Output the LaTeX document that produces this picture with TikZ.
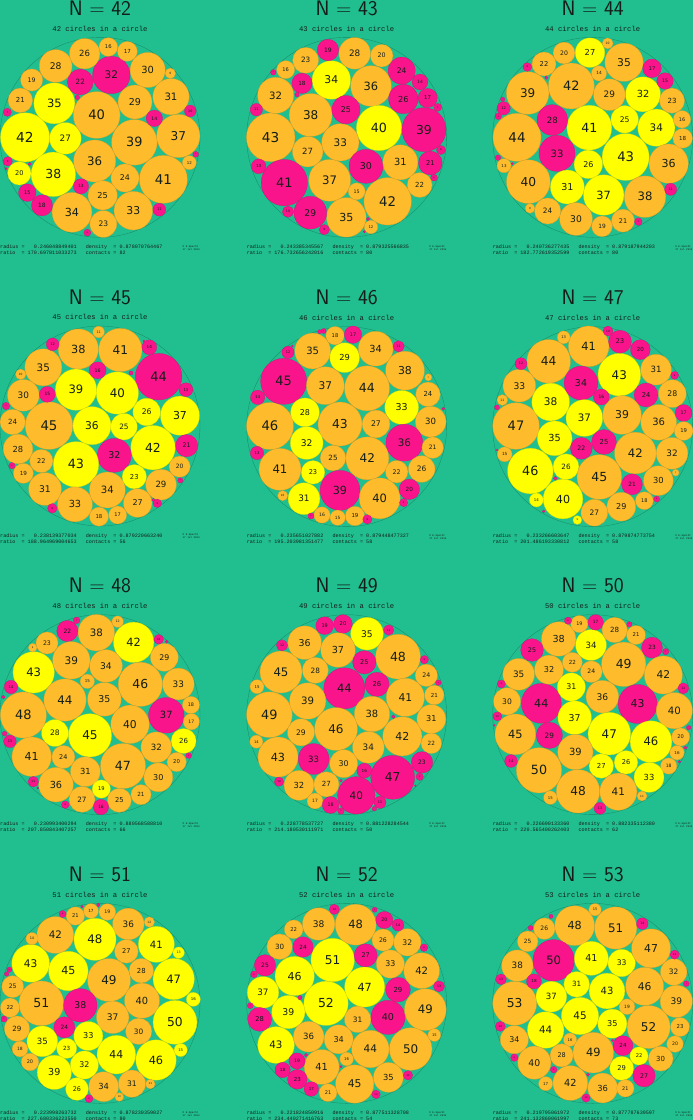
\documentclass[tikz,border=0pt]{standalone}
\usepackage{fontspec}
\newfontfamily\numfont{DejaVu Sans}
\newfontfamily\monofont{Liberation Mono}
\definecolor{bg}{RGB}{33,191,143}
\definecolor{cO}{RGB}{254,187,44}
\definecolor{cY}{RGB}{255,255,0}
\definecolor{cM}{RGB}{250,20,140}
\definecolor{ring}{RGB}{22,140,104}
\definecolor{ink}{RGB}{20,30,25}
\tikzset{
  ttl/.style={font=\sffamily\fontsize{21}{21}\selectfont,text=ink,inner sep=0pt},
  subt/.style={font=\monofont\fontsize{7.2}{7.2}\selectfont,text=ink,inner sep=0pt},
  info/.style={font=\monofont\fontsize{5.1}{5.1}\selectfont,text=ink,anchor=base west,inner sep=0pt},
  copy/.style={font=\monofont\fontsize{2.6}{3}\selectfont,text=ink,anchor=north east,align=left,inner sep=0pt},
  outer/.style={draw=ring,line width=0.35pt}
}
\newcommand\C[4]{%
  \pgfmathsetmacro\rr{#3*\ff/3}%
  \pgfmathsetmacro\fs{0.56*\rr}%
  \filldraw[fill=c#4,draw=c#4!82!black,line width=0.2pt] (#1,#2) circle[radius=\rr pt];%
  \ifdim\rr pt>2.5pt \node[font=\numfont\fontsize{\fs pt}{\fs pt}\selectfont,text=ink,inner sep=0pt] at (#1,#2) {#3};\fi
}
\newcommand\Head[7]{%
  \draw[outer] (#1,#2) circle[radius=100pt];
  \node[ttl] (t#3) at (#1,{#2-387}) {N = #3};
  \node[subt] (s#3) at (#1,{#2-326}) {#3 circles in a circle};
  \node[info] (a#3) at ({#1-300},{#2+333}) {radius =\ \ \ #4\ \ \ density\ \ = #5};
  \node[info] (b#3) at ({#1-300},{#2+351}) {ratio\ \ = #6\ \ \ contacts = #7};
  \node[copy] (c#3) at ({#1+300},{#2+323}) {© E.Specht\\17 Jul 2014};
}
\begin{document}
\begin{tikzpicture}[x=1pt,y=-1pt]
\useasboundingbox (0,0) rectangle (693,1120);
\fill[bg] (0,0) rectangle (693,1120);
\clip (0,0) rectangle (693,1120);
% ---------- N=42
\begin{scope}[shift={(0,0)},x=0.333333pt,y=-0.333333pt]
\pgfmathsetmacro\ff{300/170.697811}
\Head{300}{412}{42}{0.246048849401}{0.878070764467}{170.697811033273}{82}
\C{75}{412}{42}{Y}\C{163}{310}{35}{Y}\C{196}{415}{27}{Y}\C{160}{523}{38}{Y}\C{58}{520}{20}{Y}
\C{290}{345}{40}{O}\C{403}{427}{39}{O}\C{535}{408}{37}{O}\C{490}{538}{41}{O}\C{284}{483}{36}{O}
\C{334}{225}{32}{M}\C{241}{246}{22}{M}\C{167}{198}{28}{O}\C{254}{161}{26}{O}\C{325}{141}{16}{O}
\C{382}{154}{17}{O}\C{443}{210}{30}{O}\C{511}{220}{9}{O}\C{513}{290}{31}{O}\C{405}{306}{29}{O}
\C{95}{240}{19}{O}\C{61}{301}{21}{O}\C{463}{355}{14}{M}\C{571}{333}{10}{M}\C{375}{534}{24}{O}
\C{308}{586}{25}{O}\C{400}{632}{33}{O}\C{216}{637}{34}{O}\C{310}{672}{23}{O}\C{243}{559}{13}{M}
\C{82}{578}{15}{M}\C{126}{616}{18}{M}\C{478}{629}{11}{M}\C{568}{488}{12}{O}\C{587}{463}{5}{M}
\C{23}{484}{8}{M}\C{22}{337}{7}{M}\C{262}{698}{6}{M}\C{232}{292}{4}{M}\C{89}{492}{3}{M}\C{18}{506}{2}{M}
\end{scope}
% ---------- N=43
\begin{scope}[shift={(231,0)},x=0.333333pt,y=-0.333333pt]
\pgfmathsetmacro\ff{300/176.732656}
\Head{347}{412}{43}{0.243385345567}{0.879325566835}{176.732656242016}{80}
\C{119}{412}{43}{O}\C{160}{548}{41}{M}\C{239}{345}{38}{O}\C{134}{286}{32}{O}\C{301}{240}{34}{Y}
\C{420}{258}{36}{O}\C{444}{384}{40}{Y}\C{579}{389}{39}{M}\C{296}{541}{37}{O}\C{470}{604}{42}{O}
\C{346}{652}{35}{O}\C{328}{427}{33}{O}\C{230}{455}{27}{O}\C{345}{329}{25}{M}\C{405}{499}{30}{M}
\C{508}{487}{31}{O}\C{238}{638}{29}{M}\C{371}{160}{28}{O}\C{517}{297}{26}{M}\C{512}{212}{24}{M}
\C{224}{181}{23}{O}\C{566}{555}{22}{O}\C{598}{489}{21}{M}\C{452}{167}{20}{O}\C{291}{150}{19}{M}
\C{213}{250}{18}{M}\C{590}{294}{17}{M}\C{164}{209}{16}{O}\C{377}{574}{15}{O}\C{567}{246}{14}{M}
\C{83}{499}{13}{M}\C{420}{681}{12}{O}\C{76}{329}{11}{M}\C{171}{635}{10}{M}\C{280}{689}{9}{M}
\C{630}{450}{8}{M}\C{620}{322}{7}{M}\C{609}{533}{6}{M}\C{127}{217}{5}{M}\C{198}{284}{4}{M}
\C{411}{657}{3}{M}\C{400}{695}{2}{M}
\end{scope}
% ---------- N=44
\begin{scope}[shift={(462,0)},x=0.333333pt,y=-0.333333pt]
\pgfmathsetmacro\ff{300/182.772619}
\Head{392}{412}{44}{0.240736277435}{0.879187944203}{182.772619352599}{80}
\C{165}{412}{44}{O}\C{197}{279}{39}{O}\C{328}{258}{42}{O}\C{384}{158}{27}{Y}\C{486}{187}{35}{O}
\C{382}{383}{41}{Y}\C{491}{471}{43}{Y}\C{543}{283}{32}{Y}\C{583}{383}{34}{Y}\C{488}{358}{25}{Y}
\C{442}{284}{29}{O}\C{271}{360}{28}{M}\C{285}{460}{33}{M}\C{379}{493}{26}{Y}\C{316}{561}{31}{Y}
\C{425}{585}{37}{Y}\C{549}{590}{38}{O}\C{620}{491}{36}{O}\C{199}{545}{40}{O}\C{342}{657}{30}{O}
\C{257}{633}{24}{O}\C{483}{662}{21}{O}\C{420}{679}{19}{O}\C{630}{302}{23}{O}\C{246}{192}{22}{O}
\C{306}{159}{20}{O}\C{570}{205}{17}{M}\C{609}{243}{15}{M}\C{660}{358}{16}{O}\C{662}{415}{18}{O}
\C{411}{220}{14}{O}\C{125}{325}{12}{M}\C{126}{497}{13}{O}\C{626}{568}{11}{M}\C{437}{130}{10}{O}
\C{204}{625}{9}{O}\C{529}{665}{7}{M}\C{196}{201}{8}{M}\C{109}{349}{6}{M}\C{108}{473}{5}{M}
\C{122}{298}{4}{M}\C{253}{233}{3}{M}\C{151}{491}{2}{M}
\end{scope}
% ---------- N=45
\begin{scope}[shift={(0,280)},x=0.333333pt,y=-0.333333pt]
\pgfmathsetmacro\ff{300/188.964969}
\Head{300}{438}{45}{0.238139377034}{0.879220663240}{188.964969004653}{56}
\C{147}{437}{45}{O}\C{235}{207}{38}{O}\C{361}{210}{41}{O}\C{476}{290}{44}{M}\C{130}{262}{35}{O}
\C{228}{329}{39}{Y}\C{352}{339}{40}{Y}\C{70}{346}{30}{O}\C{276}{437}{36}{Y}\C{372}{440}{25}{Y}
\C{440}{396}{26}{Y}\C{540}{407}{37}{Y}\C{459}{503}{42}{Y}\C{343}{526}{32}{M}\C{228}{553}{43}{Y}
\C{38}{426}{24}{O}\C{54}{507}{28}{O}\C{124}{543}{22}{O}\C{70}{580}{19}{O}\C{135}{627}{31}{O}
\C{225}{673}{33}{O}\C{322}{630}{34}{O}\C{403}{590}{23}{Y}\C{483}{614}{29}{O}\C{413}{669}{27}{O}
\C{560}{497}{21}{M}\C{539}{560}{20}{O}\C{297}{710}{18}{O}\C{353}{705}{17}{O}\C{293}{271}{16}{M}
\C{142}{343}{15}{M}\C{448}{202}{14}{M}\C{558}{329}{13}{M}\C{158}{193}{12}{M}\C{296}{156}{11}{O}
\C{62}{283}{10}{O}\C{157}{685}{9}{M}\C{472}{670}{8}{M}\C{18}{378}{7}{M}\C{36}{557}{6}{M}
\C{541}{601}{5}{M}\C{393}{279}{4}{M}\C{460}{660}{3}{M}\C{432}{183}{2}{M}
\end{scope}
% ---------- N=46
\begin{scope}[shift={(231,280)},x=0.333333pt,y=-0.333333pt]
\pgfmathsetmacro\ff{300/195.203981}
\Head{347}{440}{46}{0.235651027882}{0.879448477327}{195.203981351477}{58}
\C{117}{438}{46}{O}\C{158}{304}{45}{M}\C{147}{568}{41}{O}\C{245}{213}{35}{O}\C{341}{233}{29}{Y}
\C{434}{206}{34}{O}\C{522}{272}{38}{O}\C{283}{317}{37}{O}\C{408}{325}{44}{O}\C{222}{397}{28}{Y}
\C{327}{432}{43}{O}\C{227}{489}{32}{Y}\C{512}{382}{33}{Y}\C{435}{432}{27}{O}\C{591}{343}{24}{O}
\C{599}{425}{30}{O}\C{520}{488}{36}{M}\C{605}{503}{21}{O}\C{409}{535}{42}{O}\C{306}{534}{25}{O}
\C{497}{575}{22}{O}\C{572}{567}{26}{O}\C{246}{577}{23}{Y}\C{327}{631}{39}{M}\C{446}{655}{40}{O}
\C{219}{656}{31}{Y}\C{535}{628}{20}{M}\C{312}{167}{18}{O}\C{366}{164}{17}{M}\C{273}{705}{16}{O}
\C{320}{713}{15}{O}\C{372}{708}{19}{O}\C{80}{352}{14}{M}\C{78}{519}{13}{M}\C{171}{217}{12}{M}
\C{503}{199}{11}{M}\C{155}{647}{10}{O}\C{409}{718}{9}{M}\C{518}{668}{8}{M}\C{592}{292}{7}{O}
\C{240}{708}{6}{M}\C{278}{153}{5}{M}\C{266}{155}{4}{M}\C{637}{386}{3}{M}\C{184}{198}{2}{M}
\end{scope}
% ---------- N=47
\begin{scope}[shift={(462,280)},x=0.333333pt,y=-0.333333pt]
\pgfmathsetmacro\ff{300/201.486193}
\Head{392}{440}{47}{0.233266603647}{0.879874773754}{201.486193330812}{58}
\C{162}{438}{47}{O}\C{260}{244}{44}{O}\C{380}{199}{41}{O}\C{172}{317}{33}{O}\C{266}{366}{38}{Y}
\C{357}{309}{34}{M}\C{472}{284}{43}{Y}\C{474}{185}{23}{M}\C{535}{209}{20}{M}\C{582}{269}{31}{O}
\C{631}{341}{28}{O}\C{552}{345}{24}{M}\C{367}{414}{37}{Y}\C{480}{405}{39}{O}\C{590}{427}{36}{O}
\C{278}{475}{35}{Y}\C{418}{351}{16}{M}\C{665}{399}{17}{M}\C{665}{453}{19}{O}\C{358}{505}{22}{M}
\C{426}{486}{25}{M}\C{520}{519}{42}{O}\C{630}{520}{32}{O}\C{205}{573}{46}{Y}\C{312}{560}{26}{Y}
\C{412}{591}{45}{O}\C{510}{613}{21}{M}\C{589}{602}{30}{O}\C{303}{657}{40}{Y}\C{478}{680}{29}{O}
\C{397}{698}{27}{O}\C{547}{662}{18}{O}\C{128}{523}{15}{O}\C{223}{660}{14}{Y}\C{305}{172}{13}{O}
\C{177}{251}{12}{M}\C{121}{360}{11}{O}\C{438}{153}{10}{M}\C{346}{720}{9}{Y}\C{641}{578}{7}{O}
\C{638}{286}{8}{M}\C{584}{657}{6}{M}\C{105}{382}{5}{M}\C{280}{595}{4}{M}\C{245}{694}{3}{M}\C{105}{510}{2}{M}
\end{scope}
% ---------- N=48
\begin{scope}[shift={(0,560)},x=0.333333pt,y=-0.333333pt]
\pgfmathsetmacro\ff{300/207.850843}
\Head{300}{464}{48}{0.230993400294}{0.880568588810}{207.850843407257}{66}
\C{70}{465}{48}{O}\C{101}{337}{43}{Y}\C{202}{213}{22}{M}\C{289}{218}{38}{O}\C{401}{247}{42}{Y}
\C{141}{249}{23}{O}\C{214}{301}{39}{O}\C{318}{318}{34}{O}\C{493}{292}{29}{O}\C{421}{373}{46}{O}
\C{535}{372}{33}{O}\C{195}{420}{44}{O}\C{313}{418}{35}{O}\C{262}{364}{15}{O}\C{499}{466}{37}{M}
\C{390}{493}{40}{O}\C{270}{526}{45}{Y}\C{165}{519}{28}{Y}\C{573}{435}{18}{O}\C{574}{485}{17}{O}
\C{551}{543}{26}{Y}\C{469}{562}{32}{O}\C{530}{606}{20}{O}\C{95}{590}{41}{O}\C{190}{591}{24}{O}
\C{256}{635}{31}{O}\C{369}{618}{47}{O}\C{475}{652}{30}{O}\C{168}{674}{36}{O}\C{246}{718}{27}{O}
\C{304}{687}{19}{Y}\C{358}{721}{25}{O}\C{423}{704}{21}{O}\C{303}{741}{16}{M}\C{30}{544}{13}{M}
\C{33}{381}{14}{M}\C{353}{185}{12}{O}\C{100}{665}{11}{M}\C{476}{238}{10}{M}\C{98}{263}{9}{O}
\C{196}{734}{8}{M}\C{230}{181}{7}{M}\C{566}{587}{6}{M}\C{14}{521}{5}{M}\C{10}{411}{4}{M}
\C{500}{245}{3}{M}\C{113}{684}{2}{M}
\end{scope}
% ---------- N=49
\begin{scope}[shift={(231,560)},x=0.333333pt,y=-0.333333pt]
\pgfmathsetmacro\ff{300/214.180530}
\Head{347}{464}{49}{0.228778537727}{0.881228284544}{214.180530111971}{50}
\C{115}{464}{49}{O}\C{150}{336}{45}{O}\C{221}{248}{36}{O}\C{281}{197}{19}{M}\C{336}{192}{20}{M}
\C{408}{221}{35}{Y}\C{501}{290}{48}{O}\C{321}{270}{37}{O}\C{253}{331}{28}{O}\C{400}{307}{25}{M}
\C{340}{385}{44}{M}\C{438}{373}{26}{M}\C{586}{346}{24}{O}\C{523}{412}{41}{O}\C{610}{405}{21}{O}
\C{230}{423}{39}{O}\C{423}{462}{38}{O}\C{601}{477}{31}{O}\C{315}{507}{46}{O}\C{210}{517}{29}{O}
\C{514}{529}{42}{O}\C{601}{550}{22}{O}\C{141}{591}{43}{O}\C{248}{597}{33}{M}\C{412}{562}{34}{O}
\C{338}{611}{30}{O}\C{573}{607}{23}{M}\C{400}{632}{16}{M}\C{485}{652}{47}{M}\C{376}{706}{40}{M}
\C{204}{676}{32}{O}\C{286}{673}{27}{O}\C{252}{723}{17}{O}\C{299}{735}{18}{M}\C{447}{727}{13}{M}
\C{78}{380}{15}{O}\C{76}{545}{14}{O}\C{153}{256}{12}{M}\C{473}{210}{11}{M}\C{144}{665}{10}{M}
\C{580}{299}{9}{M}\C{566}{650}{8}{M}\C{330}{753}{7}{M}\C{622}{368}{6}{M}\C{430}{746}{5}{M}
\C{487}{470}{4}{M}\C{330}{662}{3}{M}\C{553}{677}{2}{M}
\end{scope}
% ---------- N=50
\begin{scope}[shift={(462,560)},x=0.333333pt,y=-0.333333pt]
\pgfmathsetmacro\ff{300/220.565400}
\Head{392}{464}{50}{0.226690133360}{0.882335112380}{220.565400262403}{62}
\C{231}{631}{50}{O}\C{160}{523}{45}{O}\C{238}{430}{44}{M}\C{170}{343}{35}{O}\C{135}{424}{30}{O}
\C{290}{237}{38}{O}\C{210}{270}{25}{M}\C{261}{329}{32}{O}\C{331}{307}{22}{O}\C{387}{255}{34}{Y}
\C{388}{335}{24}{O}\C{328}{381}{31}{Y}\C{352}{192}{19}{O}\C{401}{187}{17}{M}\C{458}{210}{28}{O}
\C{522}{225}{21}{O}\C{570}{263}{23}{M}\C{485}{313}{49}{O}\C{604}{345}{42}{O}\C{421}{410}{36}{O}
\C{527}{432}{43}{M}\C{637}{452}{40}{O}\C{338}{473}{37}{Y}\C{442}{521}{47}{Y}\C{262}{526}{29}{M}
\C{567}{545}{46}{Y}\C{656}{531}{20}{O}\C{645}{578}{16}{O}\C{620}{618}{18}{O}\C{340}{576}{39}{O}
\C{418}{618}{27}{Y}\C{492}{607}{26}{Y}\C{561}{652}{33}{Y}\C{348}{694}{48}{O}\C{469}{695}{41}{O}
\C{265}{713}{15}{O}\C{414}{745}{13}{M}\C{147}{603}{14}{M}\C{664}{385}{12}{M}\C{540}{708}{11}{O}
\C{106}{469}{10}{M}\C{118}{372}{9}{M}\C{318}{182}{8}{M}\C{611}{275}{7}{M}\C{502}{193}{6}{M}
\C{680}{503}{5}{M}\C{670}{563}{4}{M}\C{652}{605}{3}{M}\C{97}{496}{2}{M}
\end{scope}
% ---------- N=51
\begin{scope}[shift={(0,840)},x=0.333333pt,y=-0.333333pt]
\pgfmathsetmacro\ff{300/227.680336}
\Head{300}{490}{51}{0.223998263732}{0.878230359027}{227.680336223550}{80}
\C{124}{490}{51}{O}\C{92}{370}{43}{Y}\C{166}{285}{42}{O}\C{226}{228}{21}{O}\C{273}{213}{17}{O}
\C{322}{216}{19}{O}\C{385}{252}{36}{O}\C{285}{298}{48}{Y}\C{469}{313}{41}{Y}\C{205}{393}{45}{Y}
\C{379}{334}{27}{O}\C{327}{420}{49}{O}\C{424}{392}{28}{O}\C{521}{417}{47}{Y}\C{38}{440}{25}{O}
\C{30}{503}{22}{O}\C{241}{496}{38}{M}\C{426}{482}{40}{O}\C{338}{532}{37}{O}\C{525}{547}{50}{Y}
\C{51}{566}{29}{O}\C{193}{562}{24}{M}\C{265}{588}{33}{Y}\C{127}{604}{35}{Y}\C{416}{574}{30}{O}
\C{200}{625}{23}{Y}\C{349}{644}{44}{Y}\C{468}{660}{46}{Y}\C{253}{675}{32}{Y}\C{163}{697}{39}{Y}
\C{396}{731}{31}{O}\C{311}{740}{34}{O}\C{231}{747}{26}{Y}\C{90}{666}{20}{O}\C{60}{627}{18}{O}
\C{542}{630}{15}{Y}\C{580}{478}{16}{Y}\C{96}{296}{14}{O}\C{536}{338}{13}{Y}\C{448}{246}{12}{O}
\C{451}{732}{11}{O}\C{358}{771}{10}{O}\C{267}{776}{9}{M}\C{188}{222}{8}{M}\C{12}{537}{7}{M}
\C{28}{389}{6}{M}\C{20}{402}{5}{M}\C{295}{195}{4}{M}\C{246}{200}{3}{M}
\end{scope}
% ---------- N=52
\begin{scope}[shift={(231,840)},x=0.333333pt,y=-0.333333pt]
\pgfmathsetmacro\ff{300/234.440271}
\Head{347}{490}{52}{0.221824850916}{0.877511328708}{234.440271416763}{54}
\C{285}{490}{52}{Y}\C{305}{360}{51}{Y}\C{374}{254}{48}{O}\C{263}{252}{38}{O}\C{188}{268}{22}{O}
\C{146}{320}{30}{O}\C{216}{321}{24}{M}\C{191}{408}{46}{Y}\C{102}{376}{25}{M}\C{96}{457}{37}{Y}
\C{172}{516}{39}{Y}\C{86}{538}{28}{M}\C{135}{615}{43}{Y}\C{233}{590}{36}{O}\C{323}{598}{34}{O}
\C{380}{538}{31}{O}\C{401}{441}{47}{Y}\C{404}{346}{27}{M}\C{471}{532}{40}{M}\C{501}{449}{29}{M}
\C{478}{372}{33}{O}\C{456}{300}{26}{O}\C{529}{307}{32}{O}\C{460}{240}{20}{M}\C{501}{255}{14}{M}
\C{572}{392}{42}{O}\C{583}{509}{49}{O}\C{418}{627}{44}{O}\C{539}{627}{50}{O}\C{472}{712}{35}{O}
\C{371}{732}{45}{O}\C{272}{681}{41}{O}\C{198}{663}{19}{M}\C{155}{690}{18}{M}\C{199}{718}{23}{M}
\C{241}{747}{17}{M}\C{291}{758}{21}{O}\C{347}{657}{16}{O}\C{610}{585}{15}{O}\C{624}{439}{13}{M}
\C{531}{706}{11}{M}\C{310}{208}{12}{M}\C{435}{763}{10}{M}\C{579}{323}{9}{M}\C{69}{403}{8}{M}
\C{58}{497}{7}{M}\C{431}{209}{6}{M}\C{207}{473}{5}{M}\C{225}{645}{4}{M}\C{330}{680}{3}{M}
\end{scope}
% ---------- N=53
\begin{scope}[shift={(462,840)},x=0.333333pt,y=-0.333333pt]
\pgfmathsetmacro\ff{300/241.132860}
\Head{392}{490}{53}{0.219795061972}{0.877787639597}{241.132860061997}{73}
\C{158}{490}{53}{O}\C{166}{377}{38}{O}\C{197}{304}{25}{O}\C{247}{266}{26}{O}\C{338}{257}{48}{O}
\C{461}{264}{51}{O}\C{399}{209}{15}{O}\C{275}{361}{50}{M}\C{388}{355}{41}{Y}\C{479}{369}{33}{Y}
\C{567}{325}{47}{O}\C{635}{396}{32}{O}\C{643}{484}{39}{O}\C{548}{439}{46}{O}\C{344}{433}{31}{Y}
\C{435}{453}{43}{Y}\C{268}{470}{37}{Y}\C{354}{528}{45}{Y}\C{495}{500}{19}{O}\C{451}{551}{35}{Y}
\C{560}{561}{52}{O}\C{654}{561}{23}{O}\C{639}{612}{20}{O}\C{251}{570}{44}{Y}\C{157}{599}{34}{O}
\C{324}{599}{16}{O}\C{299}{646}{28}{O}\C{394}{638}{49}{O}\C{483}{617}{24}{M}\C{531}{648}{22}{Y}
\C{596}{656}{30}{O}\C{479}{685}{29}{Y}\C{546}{707}{27}{M}\C{217}{668}{40}{O}\C{325}{729}{42}{O}
\C{422}{744}{36}{O}\C{490}{745}{21}{O}\C{251}{731}{17}{O}\C{216}{424}{18}{M}\C{541}{251}{14}{M}
\C{117}{418}{13}{M}\C{115}{559}{12}{M}\C{638}{344}{11}{M}\C{372}{774}{10}{M}\C{157}{653}{9}{M}
\C{275}{689}{8}{M}\C{673}{431}{7}{M}\C{206}{264}{6}{M}\C{267}{229}{5}{M}\C{378}{704}{4}{M}\C{452}{601}{3}{M}
\end{scope}
\end{tikzpicture}
\end{document}
